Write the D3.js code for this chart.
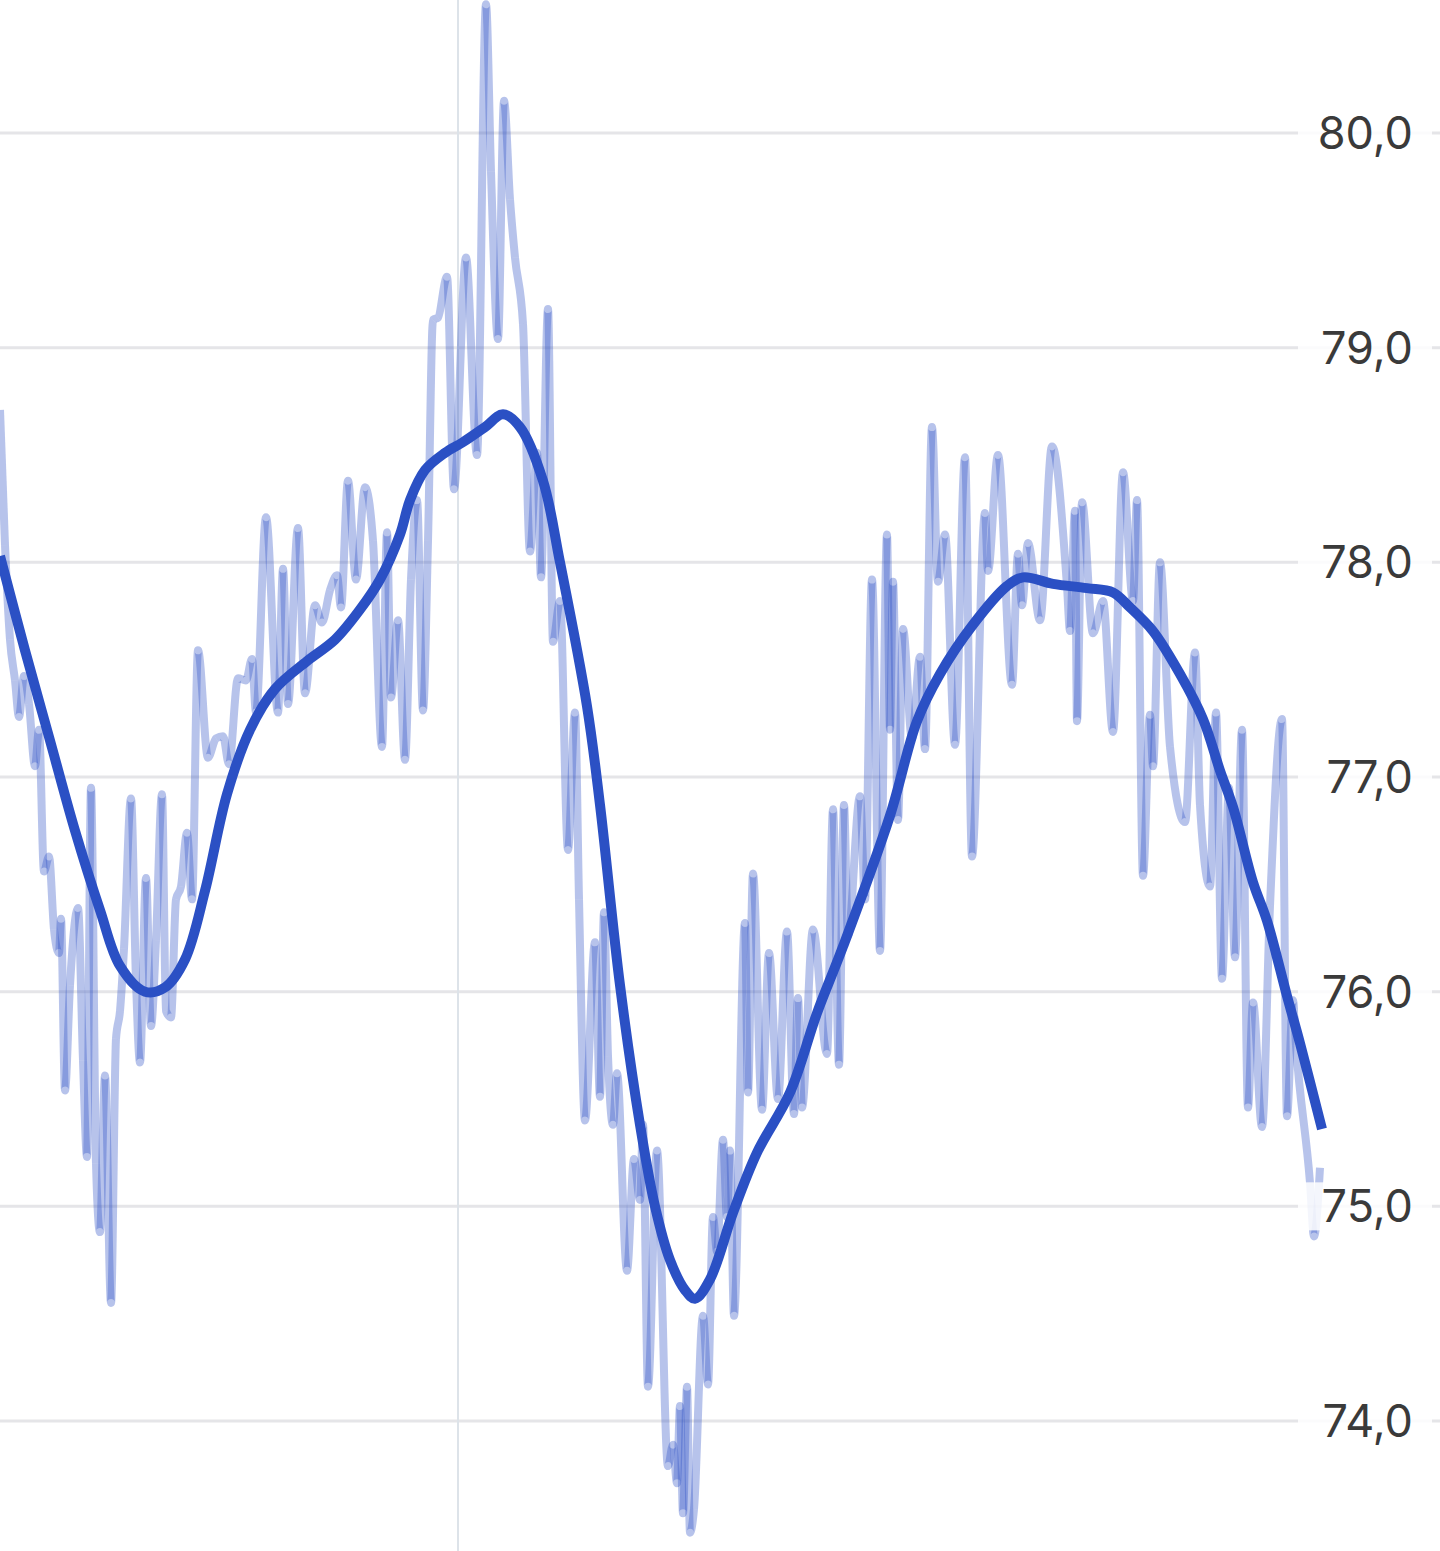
<!DOCTYPE html>
<html>
<head>
<meta charset="utf-8">
<script src="https://cdn.jsdelivr.net/npm/d3@7"></script>
<style>
  html, body { margin: 0; padding: 0; background: #ffffff; }
  svg { display: block; }
</style>
</head>
<body>
<script>
// ---------- DATA ----------
// y-axis tick values
const yTicks = [74, 75, 76, 77, 78, 79, 80];
// reference (vertical) marker position, in days
const markerDays = [229];

// raw (noisy) series: day index and value
const rawDays = [
  0,2.5,5,7.5,9.5,12,14.5,17.5,19.5,22,
  24.5,27,29.5,30.5,32.5,35,39,41.5,43.5,45.5,
  48,50,52.5,55.5,58,60,62,65.5,68,70,
  73,75.5,78,81,83,85.5,88,90.5,93.5,96,
  99,104,108,111.5,114.5,119,123,126,128,133,
  139,141.5,144,149,152.5,157.5,161,165,168.5,170.5,
  174,178,182.5,186.5,191,193.5,195.5,199,202.5,205.5,
  208.5,211.5,214,216.5,219,223.5,227,233,238.5,243,
  245.5,249,252,255,257.5,261.5,265,268.5,270.5,274,
  276.5,280,284,287.5,289.5,292.5,297.5,300,302,304,
  306.5,308.5,313.5,317,320,321.5,324,328.5,334,336.5,
  338.5,340,341.5,343.5,345,347,351.5,354,356.5,358.5,
  361.5,363.5,365,367,372.5,374,376.5,381,384.5,389,
  393.5,397,399,401,406.5,413.5,416.5,419.5,422,424,
  430,432.5,436,440,443.5,445,446.5,449,451.5,456,
  460,462.5,466,469,472.5,477.5,482.5,486,492.5,494,
  499,506,509,511,514,520,526,533.5,535,537.5,
  538.5,541,546.5,551.5,556.5,561.5,566.5,568.5,571.5,575,
  576.5,580,585,592.5,597.5,600,605,608,611,614.5,617.5,
  621,624,626.5,631,635,641,643.5,646.5,648,655,657,660
];
const rawValues = [
  78.71,78.08,77.64,77.45,77.28,77.47,77.34,77.05,77.22,76.56,
  76.63,76.29,76.18,76.34,75.54,76.03,76.39,75.68,75.23,76.95,
  75.20,74.88,75.61,74.55,75.78,75.91,76.20,76.90,76.05,75.67,
  76.53,75.84,76.24,76.92,75.91,75.88,76.43,76.49,76.74,76.43,
  77.59,77.09,77.18,77.19,77.06,77.46,77.45,77.55,77.30,78.21,
  77.30,77.97,77.34,78.16,77.39,77.80,77.72,77.87,77.94,77.79,
  78.38,77.92,78.35,78.10,77.14,78.14,77.37,77.73,77.08,77.92,
  78.29,77.31,78.10,79.13,79.14,79.33,78.34,79.42,78.50,80.60,
  79.82,79.04,80.15,79.69,79.42,79.11,78.05,78.51,77.93,79.18,
  77.63,77.82,76.66,77.30,76.43,75.40,76.23,75.51,76.37,75.70,
  75.38,75.62,74.70,75.22,75.03,75.38,74.16,75.26,73.79,73.89,
  73.71,74.07,73.57,74.16,73.48,73.59,74.49,74.17,74.95,74.79,
  75.31,74.95,75.26,74.49,76.32,75.53,76.55,75.45,76.18,75.50,
  76.28,75.43,75.97,75.46,76.29,75.71,76.85,75.66,76.87,76.26,
  76.91,76.43,77.92,76.19,78.13,77.22,77.91,76.80,77.69,77.18,
  77.56,77.13,78.63,77.91,78.13,77.15,78.49,76.63,78.23,77.96,
  78.50,77.43,78.04,77.80,78.09,77.73,78.54,77.89,77.68,78.24,
  77.26,78.28,77.67,77.82,77.21,78.42,77.82,78.29,76.54,77.29,
  77.05,78.00,77.14,76.79,77.58,76.87,76.49,77.30,76.06,76.95,76.16,
  77.22,75.46,75.95,75.37,76.40,77.27,75.42,75.96,75.75,75.11,74.86,75.18
];

// smoothed trend series
const trendDays = [
  0,12.5,25,37.5,50,60,72.5,82.5,92.5,102.5,
  113.5,125,137.5,153.5,167.5,180,190,200,205,212.5,
  222.5,231.5,242.5,251.5,260,271.5,280,293.5,300,310,320,
  327.5,335,342.5,347.5,355,366.5,378.5,395,408.5,421.5,
  445,458.5,470,486.5,503.5,511.5,526.5,543.5,556.5,565,
  576.5,590,601.5,610,616.5,626.5,633.5,643.5,650,661
];
const trendValues = [
  78.03,77.59,77.17,76.75,76.38,76.12,76.00,76.02,76.15,76.47,
  76.92,77.22,77.41,77.54,77.64,77.78,77.92,78.13,78.29,78.43,
  78.51,78.56,78.63,78.69,78.63,78.38,78.00,77.33,76.87,76.03,75.38,
  75.00,74.75,74.61,74.57,74.66,74.97,75.25,75.53,75.90,76.21,
  76.82,77.26,77.48,77.71,77.89,77.93,77.90,77.88,77.86,77.79,
  77.68,77.48,77.27,77.03,76.86,76.51,76.33,75.98,75.76,75.36
];

// ---------- CHART ----------
const W = 1440, H = 1551;
const svg = d3.select("body").append("svg").attr("width", W).attr("height", H);
svg.append("rect").attr("width", W).attr("height", H).attr("fill", "#ffffff");

const x = d3.scaleLinear().domain([0, 720]).range([0, W]);
const y = d3.scaleLinear().domain([73.3945, 80.6196]).range([H, 0]);

const fmt = d3.formatLocale({decimal: ",", thousands: ".", grouping: [3], currency: ["", "€"]}).format(".1f");

// horizontal gridlines
svg.append("g").selectAll("line").data(yTicks).join("line")
  .attr("x1", 0).attr("x2", W)
  .attr("y1", d => y(d)).attr("y2", d => y(d))
  .attr("stroke", "#e5e5e8").attr("stroke-width", 3);

// vertical marker
svg.append("g").selectAll("line").data(markerDays).join("line")
  .attr("x1", d => x(d)).attr("x2", d => x(d))
  .attr("y1", 0).attr("y2", H)
  .attr("stroke", "#dde3e9").attr("stroke-width", 2);

// raw series drawn segment by segment (overlaps darken)
const rawPts = rawDays.map((d, i) => [x(d), y(rawValues[i])]);
const rawPath = d3.line().curve(d3.curveMonotoneX)(rawPts);
const parts = rawPath.split("C");
let prev = parts[0].slice(1);
const segs = [];
for (let k = 1; k < parts.length; k++) {
  segs.push("M" + prev + "C" + parts[k]);
  const nums = parts[k].split(",");
  prev = nums[nums.length - 2] + "," + nums[nums.length - 1];
}
svg.append("g").selectAll("path").data(segs).join("path")
  .attr("d", d => d)
  .attr("fill", "none")
  .attr("stroke", "#2b50c4")
  .attr("stroke-opacity", 0.34)
  .attr("stroke-width", 8)
  .attr("stroke-linecap", "butt")
  .attr("stroke-linejoin", "round");

// trend line
const trendPts = trendDays.map((d, i) => [x(d), y(trendValues[i])]);
svg.append("path")
  .attr("d", d3.line().curve(d3.curveCatmullRom.alpha(0.5))(trendPts))
  .attr("fill", "none")
  .attr("stroke", "#2b50c4")
  .attr("stroke-width", 10)
  .attr("stroke-linecap", "butt");

// y-axis labels on the right
const lab = svg.append("g");
lab.selectAll("rect").data(yTicks).join("rect")
  .attr("x", 1298).attr("width", 134)
  .attr("y", d => y(d) - 24).attr("height", 48)
  .attr("fill", "#ffffff").attr("fill-opacity", 0.85);
lab.selectAll("text").data(yTicks).join("text")
  .attr("x", 1413).attr("y", d => y(d) + 16)
  .attr("text-anchor", "end")
  .attr("font-family", "Inter, 'Noto Sans', sans-serif")
  .attr("font-size", 45)
  .attr("font-weight", 400)
  .attr("fill", "#3a3a3a")
  .text(d => fmt(d));
</script>
</body>
</html>
